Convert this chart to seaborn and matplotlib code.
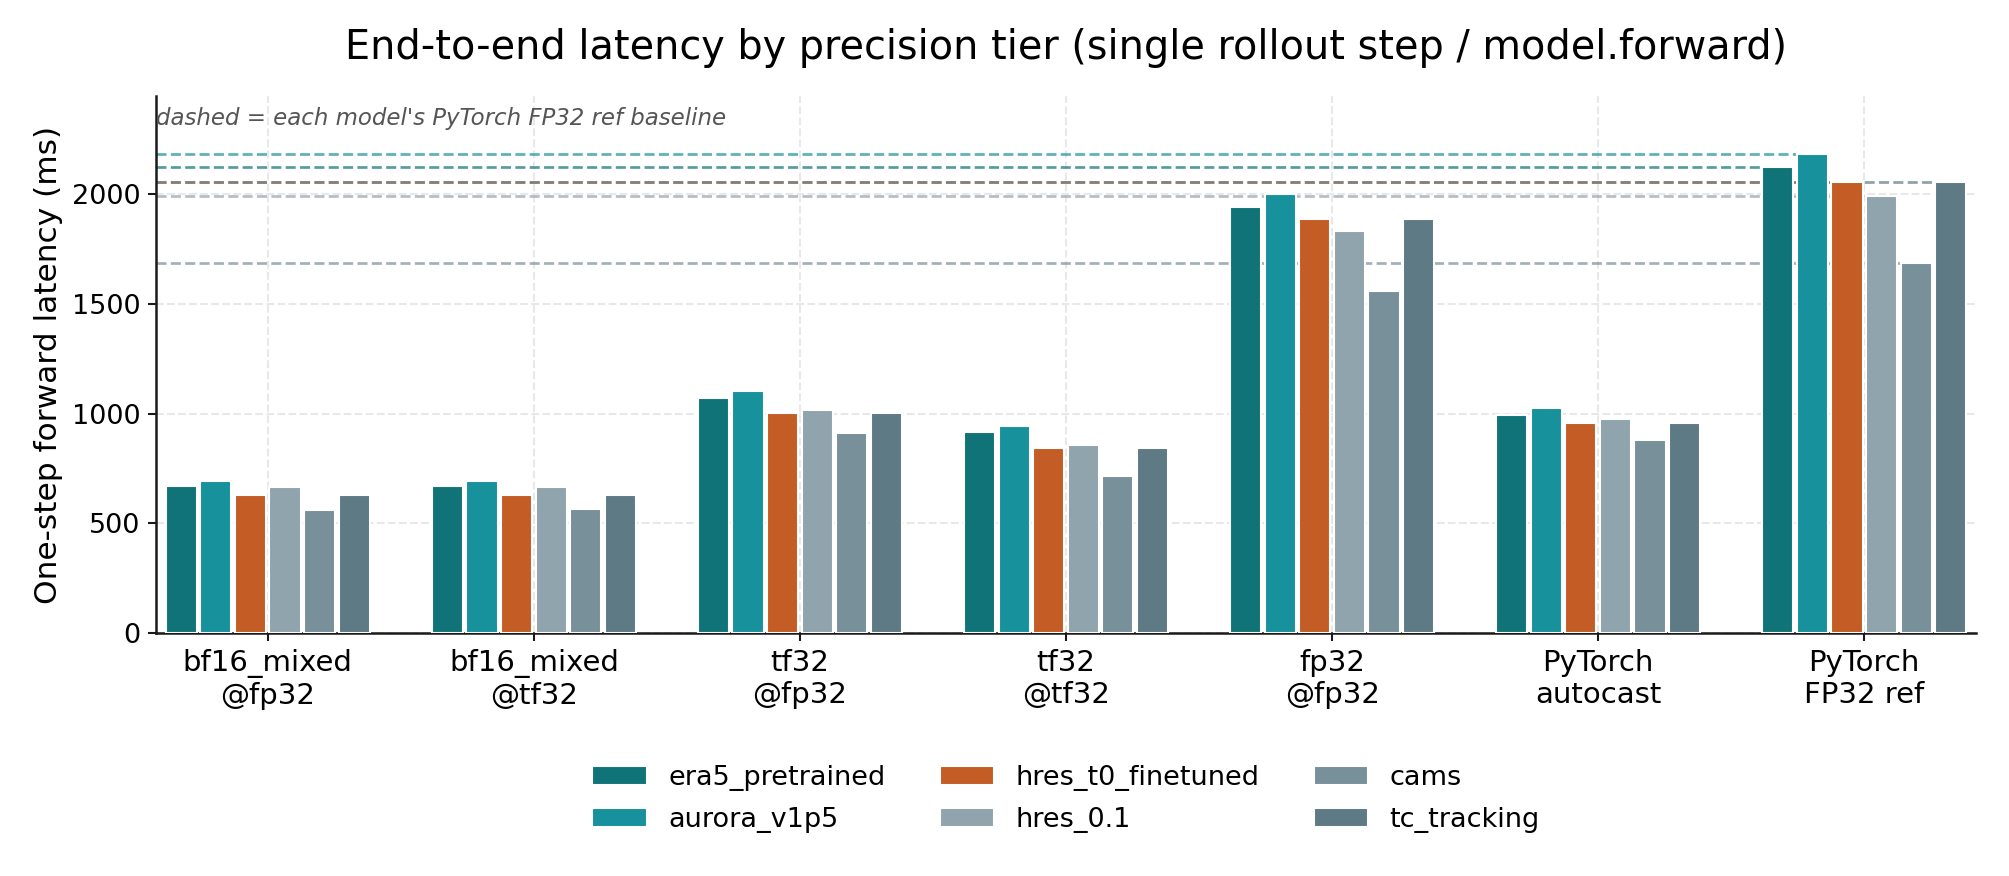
import numpy as np
import pandas as pd
import matplotlib
matplotlib.use("Agg")
import matplotlib.pyplot as plt
import seaborn as sns

# ---- data ----
tiers = ["bf16_mixed\n@fp32", "bf16_mixed\n@tf32", "tf32\n@fp32", "tf32\n@tf32",
         "fp32\n@fp32", "PyTorch\nautocast", "PyTorch\nFP32 ref"]
models = ["era5_pretrained", "aurora_v1p5", "hres_t0_finetuned", "hres_0.1", "cams", "tc_tracking"]
era5_pretrained = [672, 672, 1072, 916, 1939, 995, 2122]
aurora_v1p5 = [695, 695, 1104, 944, 1999, 1027, 2182]
hres_t0_finetuned = [631, 631, 1003, 843, 1885, 959, 2055]
hres_0_1 = [667, 667, 1017, 857, 1830, 977, 1991]
cams = [563, 567, 912, 715, 1556, 881, 1684]
tc_tracking = [631, 631, 1003, 843, 1885, 959, 2055]
series = [era5_pretrained, aurora_v1p5, hres_t0_finetuned, hres_0_1, cams, tc_tracking]
colors = ["#0f7377", "#17919b", "#c35c25", "#90a4ad", "#78909a", "#5d7a85"]

rows = []
for m, vals in zip(models, series):
    for t, v in zip(tiers, vals):
        rows.append({"tier": t, "model": m, "ms": v})
df = pd.DataFrame(rows)

sns.set_style("ticks")
plt.rcParams["font.family"] = ["DejaVu Sans"]
plt.rcParams["text.color"] = "black"
plt.rcParams["axes.labelcolor"] = "black"
plt.rcParams["xtick.color"] = "black"
plt.rcParams["ytick.color"] = "black"

fig = plt.figure(figsize=(2009 / 150, 876 / 150), dpi=150)
ax = fig.add_axes([156 / 2009, 1 - 633.3 / 876, (1976 - 156) / 2009, (633.3 - 96) / 876])

sns.barplot(data=df, x="tier", y="ms", hue="model", hue_order=models, order=tiers,
            palette=colors, saturation=1, width=0.78, gap=0.1, edgecolor="white",
            linewidth=1.0, errorbar=None, zorder=3, ax=ax, legend=True)

# dashed baselines: each model's PyTorch FP32 ref value, up to its bar in the last group
xlim_left = -0.42
for cont, col in zip(ax.containers, colors):
    last = cont.patches[-1]
    xc = last.get_x() + last.get_width() / 2
    yv = last.get_height()
    ax.hlines(yv, xlim_left, xc, colors=col, linestyles="--", linewidth=1.3,
              alpha=0.7, zorder=2)

ax.set_xlim(xlim_left, len(tiers) - 1 + 0.42)
ax.set_ylim(0, 2445)
ax.set_yticks([0, 500, 1000, 1500, 2000])
ax.grid(True, linestyle="--", color="#e8e8e8", linewidth=1.0, zorder=0)
ax.set_axisbelow(True)
for s in ["top", "right"]:
    ax.spines[s].set_visible(False)
for s in ["left", "bottom"]:
    ax.spines[s].set_color("#1a1a1a")
    ax.spines[s].set_linewidth(1.2)
ax.tick_params(axis="both", direction="out", length=4, width=1.0, color="#1a1a1a")
ax.tick_params(axis="x", labelsize=14)
ax.tick_params(axis="y", labelsize=13)

ax.set_xlabel("")
ax.set_ylabel("One-step forward latency (ms)", fontsize=15)
ax.set_title("End-to-end latency by precision tier (single rollout step / model.forward)",
             fontsize=19.1, pad=18)
ax.text(0.0, 0.979, "dashed = each model's PyTorch FP32 ref baseline",
        transform=ax.transAxes, ha="left", va="top", fontsize=11,
        style="italic", color="#555555")

handles, labels = ax.get_legend_handles_labels()
ax.legend(handles, labels, loc="upper center", bbox_to_anchor=(0.5, -0.2),
          ncol=3, frameon=False, fontsize=13, handlelength=2.0,
          columnspacing=2.0, labelspacing=0.6)

fig.savefig("out.png", dpi=150)
